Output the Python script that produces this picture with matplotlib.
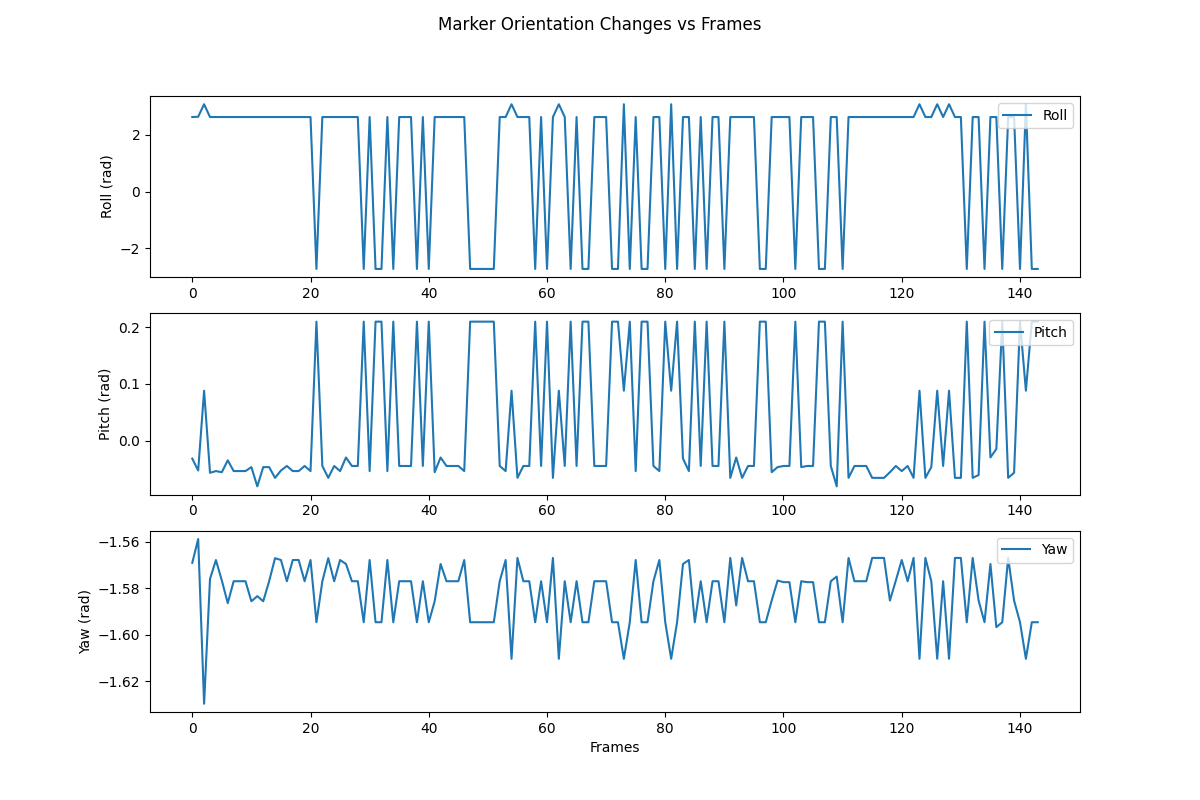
import numpy as np
import matplotlib
matplotlib.use("Agg")
import matplotlib.pyplot as plt

# ================================
# Orientation data read per frame
# ================================
H, L, P = 2.62, -2.72, 3.07
roll = [H, 2.63, P] + [H] * 18 + [L, H, H, H, H, H, H, H, L, H, L, L, H, L, H, H, H, L, H, L,
        H, H, H, H, H, H, L, L, L, L, L, H, H, P, H, H, H, L, H, L, H, P, H, L, H, L, L, H, H, H,
        L, L, P, L, H, L, L, H, H, L, P, L, H, H, L, H, L, H, H, L, H, H, H, H, H, L, L, H, H, H,
        H, L, H, H, H, L, L, H, H, L] + [H] * 12 + [P, H, H, P, H, P, H, H, L, H, H, L, H, H, L,
        H, H, L, P, L, L]

T = 0.21
pitch = [-0.032, -0.053, 0.088, -0.057, -0.054, -0.056, -0.035, -0.054, -0.054, -0.054,
         -0.047, -0.081, -0.047, -0.047, -0.066, -0.053, -0.045, -0.054, -0.054, -0.045,
         -0.054, T, -0.045, -0.066, -0.045, -0.054, -0.03, -0.045, -0.045, T,
         -0.054, T, T, -0.054, T, -0.045, -0.045, -0.045, T, -0.045,
         T, -0.056, -0.03, -0.045, -0.045, -0.045, -0.054, T, T, T,
         T, T, -0.045, -0.054, 0.088, -0.066, -0.045, -0.045, T, -0.045,
         T, -0.066, 0.088, -0.045, T, -0.045, T, T, -0.045, -0.045,
         -0.045, T, T, 0.088, T, -0.054, T, T, -0.045, -0.054,
         T, 0.088, T, -0.032, -0.054, T, -0.045, T, -0.045, -0.045,
         T, -0.066, -0.03, -0.066, -0.045, -0.045, T, T, -0.056, -0.047,
         -0.045, -0.045, T, -0.047, -0.045, -0.045, T, T, -0.045, -0.081,
         T, -0.066, -0.045, -0.045, -0.045, -0.066, -0.066, -0.066, -0.056, -0.045,
         -0.054, -0.045, -0.066, 0.088, -0.066, -0.047, 0.088, -0.045, 0.088, -0.066,
         -0.066, T, -0.066, -0.061, T, -0.03, -0.015, T, -0.066, -0.057,
         T, 0.088, T, T]

a, b, c, d = -1.5679, -1.5770, -1.5946, -1.6103
yaw = [-1.5691, -1.5589, -1.6296, -1.5760, a, -1.5767, -1.5864, b, b, b,
       -1.5856, -1.5834, -1.5856, b, -1.5671, a, b, a, a, b,
       a, c, b, -1.5671, b, a, -1.5696, b, b, c,
       a, c, c, a, c, b, b, b, c, b,
       c, -1.5856, -1.5696, b, b, b, a, c, c, c,
       c, c, b, a, d, -1.567, b, b, c, b,
       c, -1.567, d, b, c, b, c, c, b, b,
       b, c, c, d, c, a, c, c, b, a,
       c, d, c, -1.5696, a, c, b, c, b, b,
       c, -1.567, -1.5874, -1.567, b, b, c, c, -1.5853, -1.5767,
       -1.5774, -1.5774, c, b, -1.5774, -1.5774, c, c, b, -1.575,
       c, -1.567, b, b, b, -1.567, -1.567, -1.567, -1.5853, -1.5767,
       a, b, -1.567, d, -1.567, b, d, b, d, -1.567,
       -1.567, c, -1.567, -1.5853, c, -1.5696, -1.5967, c, -1.567, -1.5853,
       c, d, c, c]

frames = np.arange(len(roll))

# ================================
# Plot
# ================================
fig, axes = plt.subplots(3, 1, figsize=(12, 8))
fig.suptitle("Marker Orientation Changes vs Frames")

series = [(roll, "Roll", "Roll (rad)"), (pitch, "Pitch", "Pitch (rad)"), (yaw, "Yaw", "Yaw (rad)")]
for ax, (vals, name, ylab) in zip(axes, series):
    ax.plot(frames, vals, label=name)
    ax.set_ylabel(ylab)
    ax.legend(loc="upper right")

axes[2].set_xlabel("Frames")

plt.savefig("out.png", dpi=100)
